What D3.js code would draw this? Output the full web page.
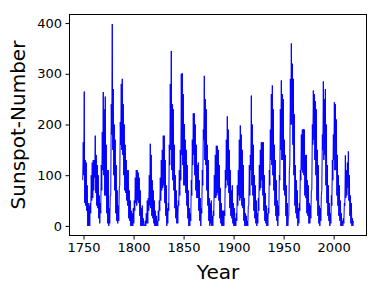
<!DOCTYPE html>
<html>
<head>
<meta charset="utf-8">
<script src="https://cdn.jsdelivr.net/npm/d3@7"></script>
<style>
  body { margin: 0; background: #fff; }
  svg { display: block; }
  text { font-family: "DejaVu Sans", sans-serif; fill: #000; }
</style>
</head>
<body>
<div id="chart"></div>
<script>
// first year of the series, one entry per year after that
var startYear = 1749;

// highest monthly sunspot number seen in each year
var yearHigh = [
  165, 265, 130, 125, 80, 45, 40, 45, 100, 125,          // 1749-1758
  130, 130, 178, 140, 120, 100, 60, 45, 120, 185,        // 1759-1768
  264, 230, 255, 160, 110, 110, 35, 60, 240, 398,        // 1769-1778
  270, 200, 170, 120, 70, 40, 75, 205, 280, 290,         // 1779-1788
  240, 200, 160, 130, 110, 110, 70, 50, 30, 25,          // 1789-1798
  35, 50, 95, 110, 110, 105, 95, 70, 35, 40,             // 1799-1808
  15, 2, 10, 25, 50, 55, 100, 162, 140, 90,              // 1809-1818
  70, 50, 30, 20, 10, 30, 50, 95, 130, 150,              // 1819-1828
  178, 178, 130, 80, 35, 45, 160, 280, 345, 240,         // 1829-1838
  230, 160, 100, 70, 40, 50, 110, 150, 300, 301,         // 1839-1848
  260, 201, 170, 150, 120, 70, 35, 25, 90, 170,          // 1849-1858
  222, 222, 200, 160, 120, 125, 90, 55, 35, 110,         // 1859-1868
  190, 296, 250, 230, 160, 130, 55, 45, 50, 20,          // 1869-1878
  30, 100, 140, 158, 158, 150, 120, 75, 45, 30,          // 1879-1888
  30, 30, 110, 170, 216, 190, 150, 110, 70, 80,          // 1889-1898
  45, 35, 15, 25, 80, 110, 170, 198, 180, 150,           // 1899-1908
  120, 55, 25, 20, 10, 40, 120, 140, 257, 200,           // 1909-1918
  160, 100, 80, 50, 25, 55, 120, 150, 165, 165,          // 1919-1928
  165, 100, 65, 40, 25, 35, 110, 190, 260, 277,          // 1929-1938
  230, 160, 130, 90, 50, 40, 100, 230, 287, 260,         // 1939-1948
  250, 170, 140, 80, 45, 20, 110, 290, 360, 320,         // 1949-1958
  290, 220, 120, 90, 70, 35, 45, 110, 180, 190,          // 1959-1968
  191, 190, 140, 140, 90, 80, 45, 40, 70, 200,           // 1969-1978
  267, 260, 246, 230, 150, 120, 40, 35, 60, 180,         // 1979-1988
  285, 250, 270, 200, 120, 80, 45, 25, 60, 130,          // 1989-1998
  180, 244, 240, 210, 140, 100, 80, 50, 25, 10,          // 1999-2008
  15, 45, 139, 110, 125, 147, 100, 60, 45, 15,           // 2009-2018
  10                                                     // 2019
];

// lowest monthly sunspot number seen in each year
var yearLow = [
  90, 100, 45, 40, 30, 0, 0, 0, 25, 50,
  55, 70, 95, 65, 40, 35, 15, 5, 25, 70,
  110, 100, 60, 60, 25, 5, 0, 5, 60, 180,
  150, 100, 70, 25, 10, 5, 10, 80, 160, 150,
  140, 100, 70, 65, 50, 40, 15, 10, 0, 0,
  0, 5, 30, 45, 40, 50, 45, 20, 0, 0,
  0, 0, 0, 0, 5, 5, 30, 40, 35, 20,
  15, 5, 0, 0, 0, 0, 10, 30, 50, 70,
  75, 80, 45, 20, 0, 5, 30, 120, 150, 110,
  90, 70, 35, 15, 5, 5, 40, 60, 90, 140,
  120, 80, 80, 65, 40, 15, 0, 0, 10, 60,
  120, 140, 100, 70, 55, 55, 30, 10, 0, 25,
  80, 170, 130, 120, 70, 40, 10, 0, 5, 0,
  0, 20, 55, 55, 60, 65, 50, 15, 5, 0,
  0, 0, 20, 75, 90, 80, 65, 35, 20, 15,
  5, 0, 0, 0, 10, 40, 60, 50, 55, 40,
  35, 10, 0, 0, 0, 0, 40, 60, 110, 80,
  60, 30, 15, 5, 0, 5, 30, 70, 75, 90,
  60, 30, 10, 5, 0, 0, 25, 80, 130, 120,
  100, 70, 40, 20, 10, 0, 20, 90, 150, 130,
  130, 70, 60, 20, 0, 0, 20, 120, 200, 200,
  160, 100, 40, 25, 15, 0, 5, 30, 90, 110,
  105, 100, 60, 55, 25, 20, 5, 5, 15, 70,
  160, 170, 130, 100, 50, 20, 5, 0, 10, 70,
  150, 130, 140, 80, 45, 20, 10, 0, 5, 40,
  90, 130, 110, 110, 60, 40, 20, 10, 0, 0,
  0, 5, 40, 55, 60, 75, 50, 20, 5, 0,
  0
];

var yTicks = [0, 100, 200, 300, 400];
var xTicks = [1750, 1800, 1850, 1900, 1950, 2000];

var width = 381, height = 293;
var margin = {left: 69, right: 14, top: 14, bottom: 57};

var svg = d3.select("#chart").append("svg")
            .attr("width", width)
            .attr("height", height);

// points: low then high inside each year, so the line zigzags like monthly data
var points = [];
for (var i = 0; i < yearHigh.length; ++i) {
  var yr = startYear + i;
  points.push({x: yr + 0.2, y: yearLow[i]});
  points.push({x: yr + 0.7, y: yearHigh[i]});
}

// matplotlib style 5% padding
var xMin = startYear, xMax = startYear + yearHigh.length - 0.2;
var xPad = (xMax - xMin) * 0.05;
var yMax = d3.max(yearHigh), yPad = yMax * 0.05;

var x = d3.scaleLinear()
          .domain([xMin - xPad, xMax + xPad])
          .range([margin.left, width - margin.right]);
var y = d3.scaleLinear()
          .domain([-yPad, yMax + yPad])
          .range([height - margin.bottom, margin.top]);

var line = d3.line()
             .x(function(d){ return x(d.x); })
             .y(function(d){ return y(d.y); });

svg.append("path")
   .datum(points)
   .attr("d", line)
   .attr("fill", "none")
   .attr("stroke", "#0000ff")
   .attr("stroke-width", 1)
   .attr("stroke-linejoin", "round");

//axes
var xAxis = svg.append("g")
               .attr("transform", "translate(0," + (height - margin.bottom) + ")")
               .call(d3.axisBottom(x).tickValues(xTicks).tickFormat(d3.format("d"))
                       .tickSize(3.5).tickPadding(3.5));
var yAxis = svg.append("g")
               .attr("transform", "translate(" + margin.left + ",0)")
               .call(d3.axisLeft(y).tickValues(yTicks).tickSize(3.5).tickPadding(3.5));

[xAxis, yAxis].forEach(function(g){
  g.select(".domain").remove();
  g.selectAll("line").attr("stroke", "#000").attr("stroke-width", 1);
  g.selectAll("text").attr("font-size", 13).attr("font-family", "DejaVu Sans");
});

// frame around the plot
svg.append("rect")
   .attr("x", margin.left + 0.5)
   .attr("y", margin.top + 0.5)
   .attr("width", width - margin.left - margin.right - 1)
   .attr("height", height - margin.top - margin.bottom - 1)
   .attr("fill", "none")
   .attr("stroke", "#000")
   .attr("stroke-width", 1);

// axis titles
svg.append("text")
   .attr("x", (margin.left + width - margin.right) / 2)
   .attr("y", 279)
   .attr("text-anchor", "middle")
   .attr("font-size", 20)
   .text("Year");

svg.append("text")
   .attr("transform", "translate(25," + ((margin.top + height - margin.bottom) / 2) + ") rotate(-90)")
   .attr("text-anchor", "middle")
   .attr("font-size", 20)
   .text("Sunspot-Number");
</script>
</body>
</html>
